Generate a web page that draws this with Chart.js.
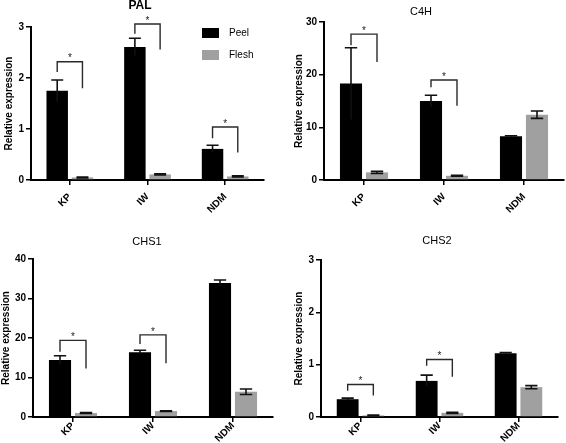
<!DOCTYPE html>
<html>
<head>
<meta charset="utf-8">
<script src="https://cdn.jsdelivr.net/npm/chart.js@4/dist/chart.umd.min.js"></script>
<style>
  html, body { margin: 0; padding: 0; background: #fff; }
  #wrap { position: relative; width: 566px; height: 443px; overflow: hidden; }
  canvas { position: absolute; }
</style>
</head>
<body>
<div id="wrap">
  <canvas id="cPAL" width="283" height="221" style="left:0;top:0"></canvas>
  <canvas id="cC4H" width="283" height="221" style="left:283px;top:0"></canvas>
  <canvas id="cCHS1" width="283" height="222" style="left:0;top:221px"></canvas>
  <canvas id="cCHS2" width="283" height="222" style="left:283px;top:221px"></canvas>
</div>
<script>
// ---------- data ----------
const categories = ['KP', 'IW', 'NDM'];
const seriesNames = ['Peel', 'Flesh'];
const yAxisTitle = 'Relative expression';
const sigMark = '*';

const palPeel = [1.75, 2.61, 0.61];
const palPeelErr = [0.21, 0.17, 0.07];
const palFlesh = [0.05, 0.11, 0.07];
const palFleshErr = [0.01, 0.01, 0.01];
const palTicks = [0, 1, 2, 3];
// [category index, bracket top, left leg end, right leg end]
const palBrackets = [[0, 2.32, 2.12, 1.80], [1, 3.06, 2.87, 2.56], [2, 1.04, 0.82, 0.54]];

const c4hPeel = [18.3, 15.0, 8.3];
const c4hPeelErr = [6.8, 1.1, 0.1];
const c4hFlesh = [1.45, 0.8, 12.4];
const c4hFleshErr = [0.2, 0.1, 0.7];
const c4hTicks = [0, 10, 20, 30];
const c4hBrackets = [[0, 27.7, 25.6, 22.4], [1, 19.0, 17.6, 14.1]];

const chs1Peel = [14.4, 16.4, 33.9];
const chs1PeelErr = [1.1, 0.5, 0.8];
const chs1Flesh = [1.0, 1.5, 6.4];
const chs1FleshErr = [0.1, 0.1, 0.7];
const chs1Ticks = [0, 10, 20, 30, 40];
const chs1Brackets = [[0, 19.4, 16.5, 12.3], [1, 20.8, 18.5, 13.6]];

const chs2Peel = [0.34, 0.69, 1.22];
const chs2PeelErr = [0.02, 0.11, 0.01];
const chs2Flesh = [0.03, 0.08, 0.57];
const chs2FleshErr = [0.005, 0.01, 0.03];
const chs2Ticks = [0, 1, 2, 3];
const chs2Brackets = [[0, 0.62, 0.50, 0.41], [1, 1.10, 0.98, 0.77]];

// ---------- drawing ----------
const FONT = "'Liberation Sans', Arial, Helvetica, sans-serif";
const PEEL_COLOR = '#000000';
const FLESH_COLOR = '#a0a0a0';

const extrasPlugin = {
  id: 'extras',
  afterDatasetsDraw(chart) {
    const o = chart.options.plugins.extras;
    const ctx = chart.ctx;
    const y = chart.scales.y;
    ctx.save();
    // error bars
    chart.data.datasets.forEach((ds, di) => {
      const meta = chart.getDatasetMeta(di);
      meta.data.forEach((bar, i) => {
        const v = ds.data[i], e = ds.errors[i];
        if (!e) return;
        const yt = y.getPixelForValue(v + e);
        const yb = y.getPixelForValue(Math.max(0, v - e));
        const cap = bar.width * 0.28;
        ctx.strokeStyle = '#111';
        ctx.lineWidth = 1.6;
        ctx.beginPath();
        ctx.moveTo(bar.x, yb); ctx.lineTo(bar.x, yt);
        ctx.moveTo(bar.x - cap, yt); ctx.lineTo(bar.x + cap, yt);
        if (di === 1) { ctx.moveTo(bar.x - cap, yb); ctx.lineTo(bar.x + cap, yb); }
        ctx.stroke();
      });
    });
    // significance brackets
    const m0 = chart.getDatasetMeta(0), m1 = chart.getDatasetMeta(1);
    o.brackets.forEach(b => {
      const xl = m0.data[b[0]].x, xr = m1.data[b[0]].x;
      const yt = y.getPixelForValue(b[1]);
      const yl = y.getPixelForValue(b[2]);
      const yr = y.getPixelForValue(b[3]);
      ctx.strokeStyle = '#2a2a2a';
      ctx.lineWidth = 1.4;
      ctx.beginPath();
      ctx.moveTo(xl, yl); ctx.lineTo(xl, yt); ctx.lineTo(xr, yt); ctx.lineTo(xr, yr);
      ctx.stroke();
      ctx.fillStyle = '#222';
      ctx.font = '10px ' + FONT;
      ctx.textAlign = 'center';
      ctx.textBaseline = 'middle';
      ctx.fillText(sigMark, (xl + xr) / 2, yt - 3);
    });
    // title
    ctx.fillStyle = '#000';
    ctx.font = o.titleFont;
    ctx.textAlign = 'center';
    ctx.textBaseline = 'middle';
    ctx.fillText(o.title, o.titleX, o.titleY);
    // legend
    if (o.legend) {
      const L = o.legend;
      chart.data.datasets.forEach((ds, di) => {
        const yy = L.y + di * L.gap;
        ctx.fillStyle = ds.backgroundColor;
        ctx.fillRect(L.x, yy - 5, 17, 10);
        ctx.fillStyle = '#000';
        ctx.font = '10px ' + FONT;
        ctx.textAlign = 'left';
        ctx.textBaseline = 'middle';
        ctx.fillText(ds.label, L.x + 27, yy);
      });
    }
    ctx.restore();
  }
};

function makeChart(id, peel, peelErr, flesh, fleshErr, ticks, brackets, geo) {
  const canvas = document.getElementById(id);
  const W = canvas.width, H = canvas.height;
  const yMax = ticks[ticks.length - 1];
  return new Chart(canvas, {
    type: 'bar',
    data: {
      labels: categories,
      datasets: [
        { label: seriesNames[0], data: peel, errors: peelErr, backgroundColor: PEEL_COLOR,
          categoryPercentage: 0.65, barPercentage: 0.85 },
        { label: seriesNames[1], data: flesh, errors: fleshErr, backgroundColor: FLESH_COLOR,
          categoryPercentage: 0.65, barPercentage: 0.85 }
      ]
    },
    options: {
      responsive: false,
      animation: false,
      events: [],
      layout: { padding: { left: 0, top: geo.top, right: W - geo.right, bottom: 0 } },
      plugins: {
        legend: { display: false },
        tooltip: { enabled: false },
        title: { display: false },
        extras: {
          brackets: brackets,
          title: geo.title, titleX: geo.titleX, titleY: geo.titleY, titleFont: geo.titleFont,
          legend: geo.legend
        }
      },
      scales: {
        x: {
          grid: { display: true, drawOnChartArea: false, drawTicks: true, tickLength: 5,
                  offset: false, color: '#000', lineWidth: 1.5 },
          border: { display: true, color: '#000', width: 2 },
          ticks: { color: '#000', font: { family: FONT, size: 10, weight: 'bold' },
                   minRotation: 45, maxRotation: 45, padding: geo.xPad },
          afterFit(s) { s.height = H - geo.bottom; }
        },
        y: {
          min: 0, max: yMax,
          afterBuildTicks(s) { s.ticks = ticks.map(v => ({ value: v })); },
          grid: { display: true, drawOnChartArea: false, drawTicks: true, tickLength: 5,
                  color: '#000', lineWidth: 1.5 },
          border: { display: true, color: '#000', width: 2 },
          ticks: { color: '#000', font: { family: FONT, size: 10, weight: 'bold' }, padding: 2 },
          title: { display: true, text: yAxisTitle, color: '#000',
                   font: { family: FONT, size: 10, weight: 'bold' },
                   padding: { top: geo.yTitlePad, bottom: 0 } },
          afterFit(s) { s.width = geo.left; }
        }
      }
    },
    plugins: [extrasPlugin]
  });
}

makeChart('cPAL', palPeel, palPeelErr, palFlesh, palFleshErr, palTicks, palBrackets,
  { left: 31, right: 264, top: 27, bottom: 180, title: 'PAL', titleX: 140, titleY: 6,
    titleFont: 'bold 12px ' + FONT, legend: { x: 202, y: 33, gap: 22 }, yTitlePad: 3, xPad: 6 });
makeChart('cC4H', c4hPeel, c4hPeelErr, c4hFlesh, c4hFleshErr, c4hTicks, c4hBrackets,
  { left: 41, right: 281, top: 22, bottom: 180, title: 'C4H', titleX: 138, titleY: 12,
    titleFont: '11px ' + FONT, yTitlePad: 10, xPad: 6 });
makeChart('cCHS1', chs1Peel, chs1PeelErr, chs1Flesh, chs1FleshErr, chs1Ticks, chs1Brackets,
  { left: 33, right: 273, top: 38, bottom: 196, title: 'CHS1', titleX: 147, titleY: 21,
    titleFont: '11px ' + FONT, yTitlePad: 0, xPad: -2 });
makeChart('cCHS2', chs2Peel, chs2PeelErr, chs2Flesh, chs2FleshErr, chs2Ticks, chs2Brackets,
  { left: 38, right: 275, top: 39, bottom: 196, title: 'CHS2', titleX: 154, titleY: 20,
    titleFont: '11px ' + FONT, yTitlePad: 10, xPad: -2 });
</script>
</body>
</html>
